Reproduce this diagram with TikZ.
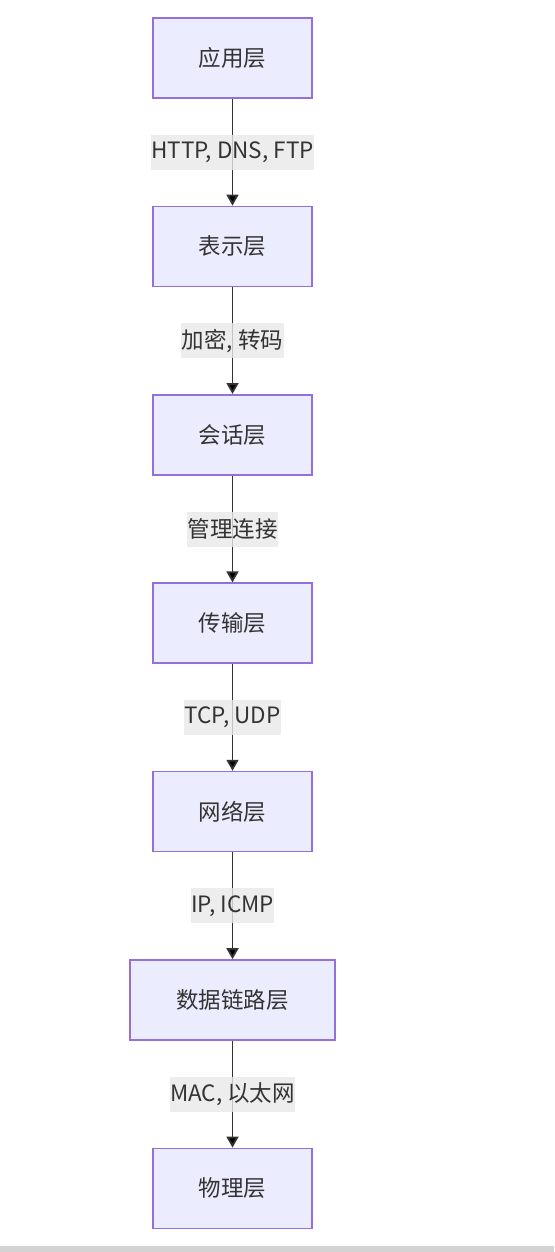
\documentclass[tikz,border=0pt]{standalone}
\usepackage{fontspec}
\setmainfont{Noto Sans CJK SC}
\usetikzlibrary{positioning,arrows.meta}
\definecolor{layerfill}{HTML}{ECECFF}
\definecolor{layerline}{HTML}{9370DB}
\definecolor{linkline}{HTML}{333333}
\definecolor{labelfill}{HTML}{E8E8E8}
\definecolor{barfill}{HTML}{D3D3D3}

\begin{document}
\begin{tikzpicture}[x=1pt, y=1pt, node distance=188.4pt, on grid,
  layer/.style={draw=layerline, fill=layerfill, line width=1.6pt, minimum width=159pt,
    minimum height=80pt, inner xsep=46pt, font=\fontsize{22.5}{26}\selectfont, text=linkline},
  link/.style={-{Triangle[length=11pt,width=12pt]}, draw=linkline, line width=1.8pt},
  tag/.style={fill=labelfill, fill opacity=0.8, text opacity=1, inner xsep=0.5pt, inner ysep=0pt,
    minimum height=35pt, font=\fontsize{22.5}{26}\selectfont, text=linkline}]
        \useasboundingbox (0,0) rectangle (554,-1252);
        \fill[barfill] (0,-1246) rectangle (554,-1252);

        \node[layer]    (L7) at (232.5,-58) {应用层};
        \node[layer]    (L6) [below=of L7] {表示层};
        \node[layer]    (L5) [below=of L6] {会话层};
        \node[layer]    (L4) [below=of L5] {传输层};
        \node[layer]    (L3) [below=of L4] {网络层};
        \node[layer]    (L2) [below=of L3] {数据链路层};
        \node[layer]    (L1) [below=of L2] {物理层};

        \path[link]
          (L7) edge node[tag] {HTTP, DNS, FTP} (L6)
          (L6) edge node[tag] {加密, 转码} (L5)
          (L5) edge node[tag] {管理连接} (L4)
          (L4) edge node[tag] {TCP, UDP} (L3)
          (L3) edge node[tag] {IP, ICMP} (L2)
          (L2) edge node[tag] {MAC, 以太网} (L1);
      \end{tikzpicture}
\end{document}
